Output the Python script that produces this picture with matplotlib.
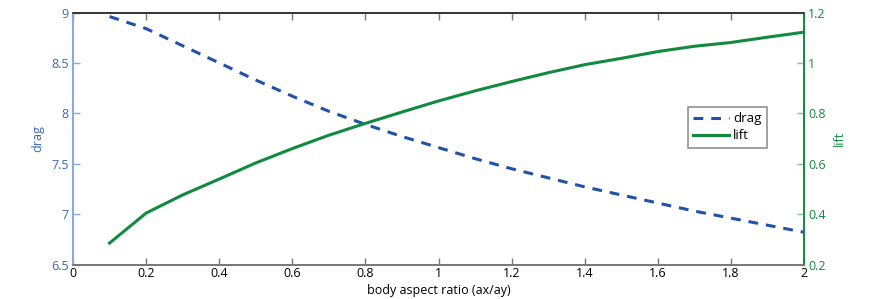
import matplotlib.pyplot as plt
from matplotlib.ticker import FormatStrFormatter

# aspect ratio sweep and the two force coefficients
aspect = [0.1, 0.2, 0.3, 0.4, 0.5, 0.6, 0.7, 0.8, 0.9, 1.0,
          1.1, 1.2, 1.3, 1.4, 1.5, 1.6, 1.7, 1.8, 1.9, 2.0]
drag = [8.96, 8.84, 8.67, 8.50, 8.33, 8.17, 8.02, 7.89, 7.77, 7.66,
        7.55, 7.45, 7.36, 7.27, 7.19, 7.11, 7.03, 6.96, 6.89, 6.82]
lift = [0.285, 0.404, 0.476, 0.539, 0.603, 0.660, 0.713, 0.760, 0.805, 0.849,
        0.889, 0.926, 0.961, 0.993, 1.018, 1.045, 1.066, 1.081, 1.102, 1.122]

blue = "#1f52a8"
blue_txt = "#3a66b8"
green = "#118a3e"

plt.rcParams["font.family"] = ["Open Sans", "DejaVu Sans"]
plt.rcParams["font.size"] = 9

fig, ax = plt.subplots(figsize=(8.72, 2.99), dpi=100)
fig.subplots_adjust(left=73 / 872, right=804 / 872, top=1 - 12.5 / 299, bottom=1 - 264.5 / 299)
ax2 = ax.twinx()

l1, = ax.plot(aspect, drag, "--", color=blue, lw=2.2, dashes=(3.2, 2.6), label="drag")
l2, = ax2.plot(aspect, lift, "-", color=green, lw=2.2, label="lift")

ax.set_xlim(0, 2)
ax.set_ylim(6.5, 9)
ax2.set_ylim(0.2, 1.2)
ax.set_xticks([0, 0.2, 0.4, 0.6, 0.8, 1, 1.2, 1.4, 1.6, 1.8, 2])
ax.set_yticks([6.5, 7, 7.5, 8, 8.5, 9])
ax2.set_yticks([0.2, 0.4, 0.6, 0.8, 1, 1.2])
ax.xaxis.set_major_formatter(FormatStrFormatter("%g"))
ax.yaxis.set_major_formatter(FormatStrFormatter("%g"))
ax2.yaxis.set_major_formatter(FormatStrFormatter("%g"))

ax.tick_params(axis="x", direction="in", top=True, length=5, width=1, color="#777777", pad=2)
ax.tick_params(axis="y", direction="in", length=5, width=1, color="#88a8d8", labelcolor=blue_txt, pad=3)
ax2.tick_params(axis="y", direction="in", length=5, width=1, color="#7fc09a", labelcolor=green, pad=3)

ax.set_xlabel("body aspect ratio (ax/ay)", labelpad=3)
ax.set_ylabel("drag", color=blue_txt, labelpad=5)
ax2.set_ylabel("lift", color=green, labelpad=5)

for a in (ax, ax2):
    a.spines["top"].set_color("#333333")
    a.spines["bottom"].set_color("#777777")
    a.spines["left"].set_color("#88a8d8")
    a.spines["right"].set_color(green)
    for s in a.spines.values():
        s.set_linewidth(1.2)

leg = ax.legend(handles=[l1, l2], loc="upper right", bbox_to_anchor=(0.949, 0.625),
                borderaxespad=0, frameon=True, fancybox=False, handlelength=2.7,
                handletextpad=0.3, borderpad=0.4, labelspacing=0.3, fontsize=9.5)
leg.get_frame().set_edgecolor("#777777")
leg.get_frame().set_linewidth(1.2)

plt.savefig("out.png", dpi=100)
